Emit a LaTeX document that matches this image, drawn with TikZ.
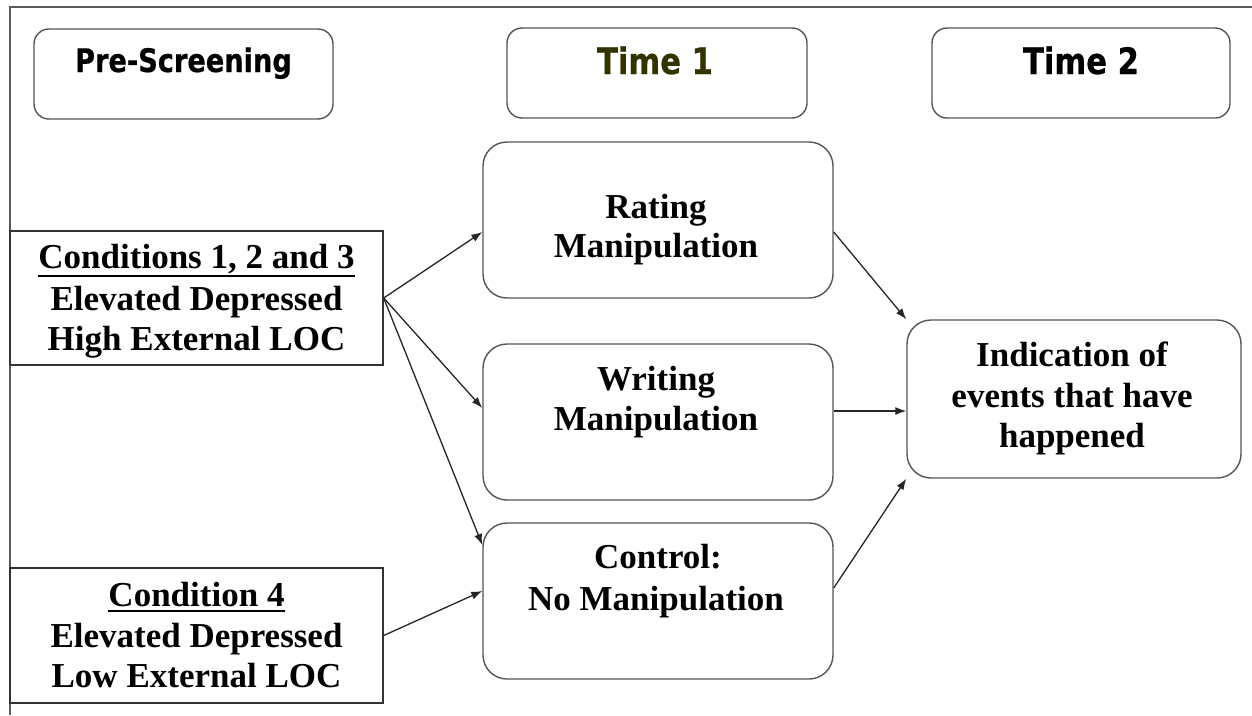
\documentclass[tikz,border=0pt]{standalone}
\usepackage{fontspec}
\usetikzlibrary{arrows.meta,calc}
\newfontfamily\bodyfont{Liberation Serif}
\newfontfamily\hdrfont[FakeStretch=0.84,FakeBold=0.6]{DejaVu Sans}
\definecolor{olivetxt}{HTML}{333300}
\definecolor{edgegray}{HTML}{555555}
\begin{document}
\begin{tikzpicture}[x=1pt,y=-1pt,
  hbox/.style={draw=edgegray, line width=1.4pt, rounded corners=15pt, inner sep=0pt},
  rbox/.style={draw=edgegray, line width=1.4pt, rounded corners=24pt, inner sep=0pt},
  sbox/.style={draw=black!80, line width=1.4pt, inner sep=0pt},
  hdr/.style={anchor=base, inner sep=0pt, font=\hdrfont\bfseries},
  ln/.style={anchor=base, inner sep=0pt, font={\bodyfont\bfseries\fontsize{35}{41}\selectfont}},
  uline/.style={line width=2pt, black},
  arr/.style={-{Latex[length=11pt,width=8pt]}, line width=1.3pt, black!85}
]
\useasboundingbox[fill=white] (0,0) rectangle (1252,715);
% frame
\draw[line width=2pt, black!65] (10,715) -- (10,7) -- (1252,7);

% header boxes
\node[hbox, minimum width=299pt, minimum height=90pt] (pre) at (183.5,74) {};
\node[hbox, minimum width=300pt, minimum height=90pt] (t1) at (657,73) {};
\node[hbox, minimum width=298pt, minimum height=90pt] (t2) at (1081,73) {};
\node[hdr] (preT) at (183.5,72) {\fontsize{32.4}{38}\selectfont Pre-Screening};
\node[hdr, text=olivetxt] (t1T) at (655,74) {\fontsize{36.4}{42}\selectfont Time 1};
\node[hdr] (t2T) at (1081,74) {\fontsize{36.4}{42}\selectfont Time 2};

% condition boxes
\node[sbox, minimum width=373pt, minimum height=134pt] (c123) at (196.5,298) {};
\node[sbox, minimum width=373pt, minimum height=135pt] (c4) at (196.5,635.5) {};
\node[ln] (c123a) at (196.5,268) {Conditions 1, 2 and 3};
\node[ln] (c123b) at (196.5,310) {Elevated Depressed};
\node[ln] (c123c) at (196.5,350) {High External LOC};
\node[ln] (c4a) at (196.5,606) {Condition 4};
\node[ln] (c4b) at (196.5,647) {Elevated Depressed};
\node[ln] (c4c) at (196.5,687) {Low External LOC};
\draw[uline] ([yshift=-8pt]c123a.base west) -- ([yshift=-8pt]c123a.base east);
\draw[uline] ([yshift=-5pt]c4a.base west) -- ([yshift=-5pt]c4a.base east);

% time 1 boxes
\node[rbox, minimum width=350pt, minimum height=156pt] (rating) at (658,220) {};
\node[rbox, minimum width=350pt, minimum height=156pt] (writing) at (658,422) {};
\node[rbox, minimum width=350pt, minimum height=156pt] (control) at (658,601) {};
\node[ln] (ratA) at (656,218) {Rating};
\node[ln] (ratB) at (656,257) {Manipulation};
\node[ln] (wriA) at (656,390) {Writing};
\node[ln] (wriB) at (656,430) {Manipulation};
\node[ln] (conA) at (658,568) {Control:};
\node[ln] (conB) at (656,610) {No Manipulation};

% time 2 box
\node[rbox, minimum width=334pt, minimum height=158pt] (ind) at (1074,399) {};
\node[ln] (indA) at (1072,366) {Indication of};
\node[ln] (indB) at (1072,407) {events that have};
\node[ln] (indC) at (1072,447) {happened};

% connectors
\draw[arr] (c123.east) -- ([yshift=-12pt]rating.west);
\draw[arr] (c123.east) -- ([yshift=14pt]writing.west);
\draw[arr] (c123.east) -- ([yshift=56pt]control.west);
\draw[arr] (c4.east) -- ([yshift=10pt]control.west);
\draw[arr] ([yshift=-12pt]rating.east) -- (ind.north west);
\draw[arr] ([yshift=11pt]writing.east) -- ([yshift=11pt]writing.east -| ind.west);
\draw[arr] ([yshift=13pt]control.east) -- (ind.south west);
\end{tikzpicture}
\end{document}
